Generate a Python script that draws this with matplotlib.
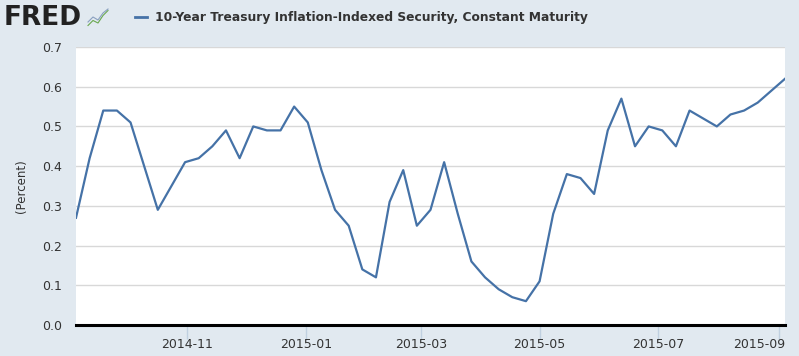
import numpy as np
import pandas as pd
import matplotlib.pyplot as plt
import matplotlib.dates as mdates
import matplotlib.transforms as mtransforms

# weekly, ending Friday
dates = pd.date_range('2014-09-05', '2015-09-04', freq='7D')
values = [0.27, 0.42, 0.54, 0.54, 0.51, 0.40, 0.29, 0.35, 0.41, 0.42,
          0.45, 0.49, 0.42, 0.50, 0.49, 0.49, 0.55, 0.51, 0.39, 0.29,
          0.25, 0.14, 0.12, 0.31, 0.39, 0.25, 0.29, 0.41, 0.28, 0.16,
          0.12, 0.09, 0.07, 0.06, 0.11, 0.28, 0.38, 0.37, 0.33, 0.49,
          0.57, 0.45, 0.50, 0.49, 0.45, 0.54, 0.52, 0.50, 0.53, 0.54,
          0.56, 0.59, 0.62]
xticks = ['2014-11-01', '2015-01-01', '2015-03-01', '2015-05-01', '2015-07-01', '2015-09-01']
yticks = [0.0, 0.1, 0.2, 0.3, 0.4, 0.5, 0.6, 0.7]

bg = '#e1e9f0'
line_col = '#4572a7'

fig = plt.figure(figsize=(7.99, 3.56), dpi=100, facecolor=bg)
W, H = 799, 356
ax = fig.add_axes([76 / W, 1 - 325 / H, (785 - 76) / W, (325 - 47) / H])
ax.set_facecolor('white')

ax.plot(dates, values, color=line_col, lw=1.6)

ax.set_xlim(dates[0], dates[-1])
ax.set_ylim(0, 0.7)
ax.set_yticks(yticks)
ax.set_yticklabels(['%.1f' % v for v in yticks])
ax.grid(axis='y', color='#d8d8d8', lw=1)
ax.set_axisbelow(True)

ax.set_xticks(pd.to_datetime(xticks))
ax.xaxis.set_major_formatter(mdates.DateFormatter('%Y-%m'))

for s in ['left', 'right', 'top']:
    ax.spines[s].set_visible(False)
ax.spines['bottom'].set_color('black')
ax.spines['bottom'].set_linewidth(2.2)

ax.tick_params(axis='y', length=0, pad=10, labelsize=9, labelcolor='#333333')
ax.tick_params(axis='x', length=10, width=1, color='#c0d0e0', direction='out',
               pad=-1, labelsize=9, labelcolor='#333333')

# keep the last date label inside the plot, like the original
last = ax.get_xticklabels()[-1]
last.set_horizontalalignment('right')
last.set_transform(last.get_transform() +
                   mtransforms.ScaledTranslation(6 / 100, 0, fig.dpi_scale_trans))

ax.set_ylabel('(Percent)', fontsize=8.5, color='#333333', labelpad=10)

# header
fig.text(4 / W, 1 - 18 / H, 'FRED', fontsize=19, fontweight='black',
         color='#222222', va='center', ha='left')
logo = fig.add_axes([87 / W, 1 - 28 / H, 22 / W, 20 / H])
logo.set_facecolor(bg)
logo.plot([0, 1, 2, 3, 4], [0.5, 1.5, 1.0, 2.5, 3.5], color='#6aa84f', lw=0.8)
logo.plot([0, 1, 2, 3, 4], [1.2, 2.2, 1.6, 3.0, 3.8], color='#8aa0c0', lw=0.8)
logo.set_xlim(-0.2, 4.2)
logo.set_ylim(0, 4)
logo.axis('off')

fig.add_artist(plt.Line2D([135 / W, 147 / W], [1 - 17 / H, 1 - 17 / H],
                          color=line_col, lw=2))
fig.text(155 / W, 1 - 17 / H,
         '10-Year Treasury Inflation-Indexed Security, Constant Maturity',
         fontsize=8.8, fontweight='bold', color='#333333', va='center', ha='left')

plt.savefig('out.png', dpi=100, facecolor=bg)
